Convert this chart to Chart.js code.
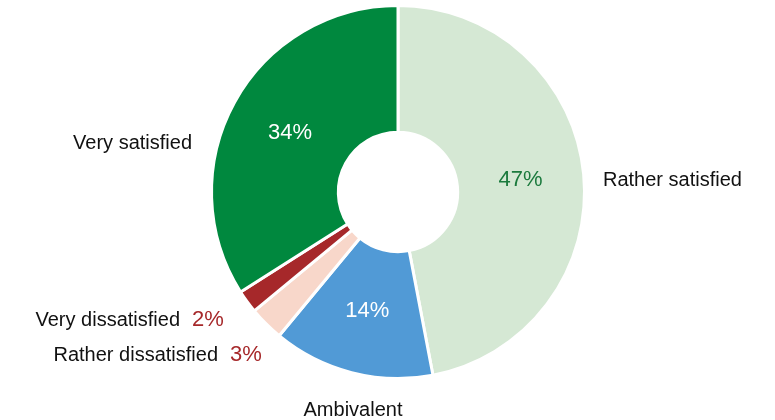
<!DOCTYPE html>
<html><head><meta charset="utf-8">
<script src="https://cdn.jsdelivr.net/npm/chart.js@4"></script>
<style>html,body{margin:0;padding:0;background:#fff}#w{width:775px;height:420px}</style>
</head><body><div id="w"><canvas id="c"></canvas></div>
<script>
const categories = ["Rather satisfied","Ambivalent","Rather dissatisfied","Very dissatisfied","Very satisfied"];
const values = [47,14,3,2,34];
const colors = ["#d5e8d4","#519ad6","#f8d7ca","#a6282a","#00883e"];
// label placement styling (offsets from center), pct: inside or beside label
const labelStyle = [
  {dx:205,dy:-12,align:"left",pctIn:true,pctColor:"#1b7a3d"},
  {dx:-45,dy:218,align:"center",pctIn:true,pctColor:"#ffffff"},
  {dx:-180,dy:163,align:"right",pctIn:false,pctColor:"#a6282a"},
  {dx:-218,dy:128,align:"right",pctIn:false,pctColor:"#a6282a"},
  {dx:-206,dy:-49,align:"right",pctIn:true,pctColor:"#ffffff"}
];
const labelsPlugin = {
  id:"lbl",
  afterDatasetsDraw(chart){
    const ctx=chart.ctx, meta=chart.getDatasetMeta(0);
    ctx.save();
    ctx.textBaseline="middle";
    meta.data.forEach((arc,i)=>{
      const st=labelStyle[i];
      const cx=arc.x, cy=arc.y;
      ctx.font="20px 'Liberation Sans', Arial, sans-serif";
      ctx.fillStyle="#111";
      ctx.textAlign=st.align;
      const lx=cx+st.dx, ly=cy+st.dy;
      ctx.fillText(categories[i],lx,ly);
      const pct=values[i]+"%";
      ctx.font="22px 'Liberation Sans', Arial, sans-serif";
      ctx.fillStyle=st.pctColor;
      if(st.pctIn){
        const a=(arc.startAngle+arc.endAngle)/2;
        const r=(arc.innerRadius+arc.outerRadius)/2;
        ctx.textAlign="center";
        ctx.fillText(pct,cx+Math.cos(a)*r,cy+Math.sin(a)*r);
      } else {
        ctx.textAlign="left";
        ctx.fillText(pct,lx+12,ly);
      }
    });
    ctx.restore();
  }
};
new Chart(document.getElementById("c"),{
  type:"doughnut",
  data:{labels:categories,datasets:[{data:values,backgroundColor:colors,borderColor:"#fff",borderWidth:3}]},
  options:{responsive:true,maintainAspectRatio:false,animation:false,cutout:"32%",
    layout:{padding:{top:4,bottom:40,left:21,right:0}},
    plugins:{legend:{display:false},tooltip:{enabled:false}}},
  plugins:[labelsPlugin]
});
</script></body></html>
